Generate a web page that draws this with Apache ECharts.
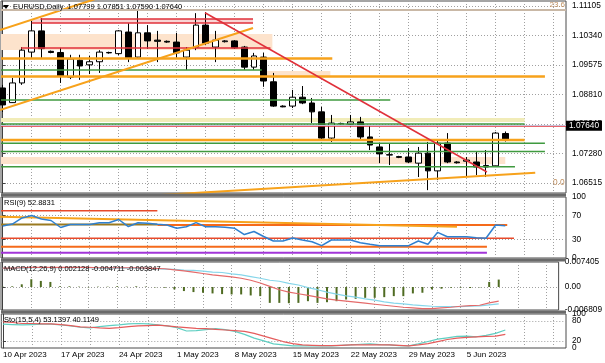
<!DOCTYPE html>
<html><head><meta charset="utf-8">
<script src="https://cdn.jsdelivr.net/npm/echarts@6/dist/echarts.min.js"></script>
<style>html,body{margin:0;padding:0;background:#fff}#c{width:605px;height:363px}</style>
</head><body><div id="c"></div><script>
// ---------------- DATA ----------------
const xLabels = ['10 Apr 2023','17 Apr 2023','24 Apr 2023','1 May 2023','8 May 2023','15 May 2023','22 May 2023','29 May 2023','5 Jun 2023'];
const labelBars = [0,6,12,18,24,30,36,42,48];
const gridBars = [0,3,6,9,12,15,18,21,24,27,30,33,36,39,42,45,48,51,54,57];

const opens  = [1.0898,1.0860,1.0911,1.0991,1.1046,1.0993,1.0990,1.0926,1.0970,1.0958,1.0966,1.0990,1.0987,1.1043,1.0978,1.1041,1.1022,1.1019,1.1017,1.0978,1.1004,1.1061,1.1004,1.1018,1.1020,1.1004,1.0952,1.0978,1.0914,1.0851,1.0851,1.0874,1.0859,1.0836,1.0768,1.0806,1.0804,1.0810,1.0771,1.0745,1.0725,1.0720,1.0719,1.0703,1.0729,1.0683,1.0755,1.0706,1.0708,1.0706,1.0693,1.0696,1.07799];
const highs  = [1.0906,1.0924,1.1004,1.1072,1.1079,1.0995,1.1002,1.0984,1.0984,1.0981,1.0996,1.0992,1.1048,1.1066,1.1098,1.1061,1.1046,1.1021,1.1041,1.1004,1.1092,1.1095,1.1046,1.1022,1.1022,1.1007,1.0989,1.0989,1.0937,1.0853,1.0893,1.0903,1.0872,1.0849,1.0828,1.0808,1.0828,1.0823,1.0802,1.0755,1.0755,1.0722,1.0742,1.0745,1.0758,1.0763,1.0781,1.0708,1.0719,1.0732,1.0737,1.0784,1.07851];
const lows   = [1.0836,1.0859,1.0906,1.0976,1.0976,1.0988,1.0911,1.0921,1.0919,1.0934,1.0937,1.0987,1.0983,1.0965,1.0976,1.0999,1.0965,1.1015,1.0976,1.0945,1.0996,1.1009,1.0965,1.1016,1.0999,1.0945,1.0945,1.0901,1.0849,1.0848,1.0846,1.0856,1.0807,1.0763,1.0758,1.0804,1.0797,1.0763,1.0737,1.0703,1.0698,1.0716,1.0703,1.0667,1.0633,1.0659,1.0703,1.0702,1.0667,1.0672,1.0667,1.0693,1.07590];
const closes = [1.0854,1.0911,1.0996,1.1046,1.1000,1.0990,1.0929,1.0973,1.0955,1.0966,1.0991,1.0989,1.1046,1.0976,1.1041,1.1020,1.1019,1.1017,1.0989,1.0996,1.1061,1.1014,1.1022,1.1020,1.1002,1.0952,1.0981,1.0916,1.0851,1.0849,1.0874,1.0859,1.0836,1.0768,1.0807,1.0805,1.0810,1.0771,1.0750,1.0727,1.0724,1.0718,1.0706,1.0729,1.0683,1.0755,1.0706,1.0704,1.0711,1.0693,1.0697,1.0781,1.07640];
const lastPrice = 1.07640;

const rsiValues = [52.5,55.7,65.6,69.7,63.9,61.5,50,54.9,54.9,54.9,57.9,57.9,63.1,51.6,57.9,56.9,55.2,54.1,48.7,51.3,57.9,51.3,51.3,50.3,48.7,38.5,43.4,35.2,27.9,27.9,32.8,29.5,26.7,20.2,29.5,29.5,29.5,25.1,22.5,20.2,20.2,20.2,20.2,27.9,22.5,42.1,34.9,34.9,34.9,33.3,32.3,54.1,52.9];
const macdHist = [0.0001,0.0002,0.0008,0.0023,0.0018,0.0015,0.0002,0.0002,0.0001,-0.0001,0.0001,0.0001,0.0002,0.0001,0.0002,0.0001,-0.0001,-0.0002,-0.0007,-0.0012,-0.0015,-0.0017,-0.0019,-0.0021,-0.0022,-0.0022,-0.0025,-0.0027,-0.0047,-0.0047,-0.0048,-0.0047,-0.0042,-0.0047,-0.0045,-0.0042,-0.0037,-0.0035,-0.0032,-0.0032,-0.0030,-0.0027,-0.0027,-0.0019,-0.0017,-0.0007,-0.0005,-0.0002,-0.0002,-0.0003,-0.0001,0.0015,0.0022];
const macdCyan = [0.0055,0.0055,0.0056,0.0057,0.0057,0.0057,0.0057,0.0057,0.0057,0.0057,0.0056,0.0056,0.0056,0.0056,0.0056,0.0055,0.0054,0.0053,0.0052,0.0050,0.0049,0.0047,0.0044,0.0043,0.0039,0.0036,0.0031,0.0026,0.0020,0.0017,0.0011,0.0006,-0.0002,-0.0008,-0.0015,-0.0021,-0.0026,-0.0030,-0.0035,-0.0039,-0.0044,-0.0048,-0.0050,-0.0053,-0.0055,-0.0057,-0.0058,-0.0058,-0.0058,-0.0057,-0.0056,-0.0053,-0.0050];
const macdRed  = [0.0056,0.0056,0.0057,0.0058,0.0058,0.0058,0.0058,0.0058,0.0058,0.0058,0.0057,0.0057,0.0057,0.0057,0.0057,0.0056,0.0055,0.0054,0.0051,0.0048,0.0044,0.0040,0.0036,0.0033,0.0030,0.0026,0.0020,0.0012,0.0002,-0.0008,-0.0015,-0.0020,-0.0025,-0.0030,-0.0035,-0.0039,-0.0042,-0.0045,-0.0048,-0.0051,-0.0054,-0.0057,-0.0060,-0.0062,-0.0064,-0.0064,-0.0062,-0.0060,-0.0057,-0.0055,-0.0054,-0.0047,-0.0042];
const stochK = [70,69,68,69,70,70,68,65,61,59,63,66,68,71,72,71,68,65,60,50,51,54,57,54,49,40,29,21,12,9,6,6,6,6,6.5,8,9,11,12,10,9,7,6.5,12,19,26,30,34,35,33,37,43,53];
const stochD = [77,75,72,72,71,71,69,66,62,61,59,58,60,63,65,66,67,65,62,60,58,57,55,53,51,49,43,35,27,19,13,9,8,7,7,8,9,9,9,9,9,8,6.5,9,13,19,25,29,31,33,34,35,40];

// Objects drawn on the price chart. Bars may be fractional; null = chart edge.
const redLevels    = [[1.10768,3.9,25.9],[1.10664,3.0,25.9],[1.10016,1.9,27.7]];
const orangeLevels = [[1.09744,null,34.1],[1.09277,null,56.1],[1.07630,null,54.0]];
const greenLevels  = [[1.09445,null,26.8],[1.08667,null,40.1],[1.08045,null,54.0],[1.07545,null,56.1],[1.07332,null,56.1],[1.06938,null,53.0]];
const fullRedLevels = [1.08330];
const fibLevels    = [1.10920, 1.06385];
const fibCaptions  = ['23.6', '0.0'];
const peachZones   = [[1.10379,1.09964,null,27.9],[1.09419,1.09290,26.9,33.9],[1.07189,1.07008,null,52.0]];
const pinkZones    = [[1.10768,1.10664,3.0,25.9]];
const yellowZones  = [[1.08201,1.08097,null,54.0]];
const orangeTrends = [[[-0.28,1.10483],[12.1,1.11491]],[[-0.28,1.08408],[25.9,1.10535]],[[16.3,1.06204],[55.1,1.06782]]];
const redTrends    = [[[20.93,1.10931],[50.1,1.06800]]];
const priceTicks   = [1.06515,1.07280,1.08045,1.08810,1.09575,1.10340,1.11105];

// Objects on the RSI window: [value, fromBar, toBar]
const rsiRed      = [[77.5,null,16.0],[32.3,null,52.9]];
const rsiGold     = [[54.9,null,16.0]];
const rsiOrangeRed= [[54.0,16.0,52.2],[18.5,null,50.1]];
const rsiPurple   = [[8.7,null,50.1]];
const rsiTrends   = [[[-0.28,67.7],[47.0,51.3]]];

// ---------------- CHART ----------------
const FONT = 'Liberation Sans';
const X_MIN = -0.176, X_MAX = 58.28;
const P_MIN = 1.06256, P_MAX = 1.11235;
const MACD_MIN = -0.006809, MACD_MAX = 0.007405;
const gridLayout = [
  {left:1, top:1,   width:565, height:192},
  {left:1, top:197, width:565, height:61},
  {left:1, top:262, width:565, height:48},
  {left:1, top:314, width:565, height:34}
];
const dotted = {color:'#a0a0a0', type:[1,2], width:1};
const edge = v => v === null ? X_MIN : v;

const xAxes = gridLayout.map((g,k) => ({
  type:'value', gridIndex:k, min:X_MIN, max:X_MAX,
  axisLine:{show:false},
  axisTick:{show:false, customValues:gridBars},
  splitLine:{show:true, lineStyle:dotted},
  axisLabel: k === 3 ? {
    show:true, customValues:labelBars, align:'left', margin:3,
    fontSize:8, fontFamily:FONT, color:'#000',
    formatter: v => xLabels[labelBars.indexOf(Math.round(v))] || ''
  } : {show:false}
}));

const lbl = (vals, fmt) => ({customValues:vals, formatter:fmt, fontSize:8.3, fontFamily:FONT, color:'#000', margin:6});
function yAx(k, min, max, labelVals, tickVals, fmt) {
  return {
    type:'value', gridIndex:k, position:'right', min:min, max:max,
    axisLine:{show:true, lineStyle:{color:'#404040'}},
    axisTick:{show:true, length:3, customValues:tickVals, lineStyle:{color:'#404040'}},
    axisLabel:lbl(labelVals, fmt),
    splitLine:{show:true, lineStyle:dotted}
  };
}
function yLabelOnly(k, min, max, val, fmt) {
  return {
    type:'value', gridIndex:k, position:'right', min:min, max:max,
    axisLine:{show:false}, axisTick:{show:false, customValues:[val]}, splitLine:{show:false},
    axisLabel:{...lbl([val], fmt), showMinLabel:true, showMaxLabel:true}
  };
}
const intFmt = v => String(Math.round(v));
const yAxes = [
  yAx(0, P_MIN, P_MAX, priceTicks, priceTicks, v => v.toFixed(5)),
  yAx(1, 0, 100, [30,70], [30,70], intFmt),
  yAx(2, MACD_MIN, MACD_MAX, [MACD_MIN,0,MACD_MAX], [0], v => Math.abs(v) < 1e-9 ? '0.00' : v.toFixed(6)),
  yAx(3, 0, 100, [20,80], [20,80], intFmt),
  yLabelOnly(1, 0, 100, 0, intFmt),
  yLabelOnly(1, 0, 100, 100, intFmt),
  yLabelOnly(3, 0, 100, 0, intFmt),
  yLabelOnly(3, 0, 100, 100, intFmt)
];

const series = [];
function seg(k, pts, color, width, z) {
  series.push({type:'line', xAxisIndex:k, yAxisIndex:k, data:pts, symbol:'none', silent:true,
    animation:false, z:z||4, clip:true, lineStyle:{color:color, width:width}});
}
function band(z, color) {
  return [{xAxis:edge(z[2]), yAxis:z[0], itemStyle:{color:color}}, {xAxis:edge(z[3]), yAxis:z[1]}];
}
series.push({type:'line', xAxisIndex:0, yAxisIndex:0, data:[], z:1, silent:true, animation:false,
  markArea:{silent:true, data:[
    ...peachZones.map(z => band(z,'#fde3cc')),
    ...pinkZones.map(z => band(z,'#f8d4d4')),
    ...yellowZones.map(z => band(z,'#f1ecb8'))
  ]}});
series.push({
  type:'candlestick', xAxisIndex:0, yAxisIndex:0, z:2, animation:false, barWidth:6,
  encode:{x:0, y:[1,2,3,4]},
  data: opens.map((o,i) => [i, o, closes[i], lows[i], highs[i]]),
  itemStyle:{color:'#ffffff', color0:'#000000', borderColor:'#000000', borderColor0:'#000000', borderColorDoji:'#000000', borderWidth:1},
  markLine:{symbol:'none', silent:true, animation:false, data:[
    ...fibLevels.map((f,i) => ({yAxis:f, lineStyle:{color:'#c9b8a6', width:2, type:'solid'},
        label:{show:i === 0, position:'insideEndTop', formatter:fibCaptions[i], color:'#c09060', fontSize:8, fontFamily:FONT, distance:1}})),
    ...fullRedLevels.map(v => ({yAxis:v, lineStyle:{color:'#e0303a', width:1.5, type:'solid'}, label:{show:false}})),
    {yAxis:lastPrice, lineStyle:{color:'#c8c0d8', width:1, type:'solid'},
      label:{show:true, position:'end', formatter:lastPrice.toFixed(5), backgroundColor:'#000', color:'#fff',
             fontSize:8.3, fontFamily:FONT, padding:[1,3,1,3], distance:0}}
  ]}
});
redLevels.forEach(l => seg(0, [[edge(l[1]),l[0]],[edge(l[2]),l[0]]], '#e0303a', 1.5));
greenLevels.forEach(l => seg(0, [[edge(l[1]),l[0]],[edge(l[2]),l[0]]], '#3f9a3f', 1.5));
orangeLevels.forEach(l => seg(0, [[edge(l[1]),l[0]],[edge(l[2]),l[0]]], '#f7a21b', 2.5));
orangeTrends.forEach(t => seg(0, t, '#f7a21b', 2));
redTrends.forEach(t => seg(0, t, '#e0303a', 1.5, 5));

rsiRed.forEach(l => seg(1, [[edge(l[1]),l[0]],[edge(l[2]),l[0]]], '#e84a2a', 1.5));
rsiGold.forEach(l => seg(1, [[edge(l[1]),l[0]],[edge(l[2]),l[0]]], '#9a7a20', 2));
rsiOrangeRed.forEach(l => seg(1, [[edge(l[1]),l[0]],[edge(l[2]),l[0]]], '#f56a1a', 2));
rsiPurple.forEach(l => seg(1, [[edge(l[1]),l[0]],[edge(l[2]),l[0]]], '#a235d8', 2));
rsiTrends.forEach(t => seg(1, t, '#f7a21b', 2));
series.push({type:'line', xAxisIndex:1, yAxisIndex:1, data:rsiValues.map((v,i)=>[i,v]), symbol:'none',
  animation:false, z:6, lineStyle:{color:'#2f80d0', width:1.5}});

series.push({type:'bar', xAxisIndex:2, yAxisIndex:2, data:macdHist.map((v,i)=>[i,v]), barWidth:2,
  animation:false, itemStyle:{color:'#4f6b22'}});
series.push({type:'line', xAxisIndex:2, yAxisIndex:2, data:macdCyan.map((v,i)=>[i,v]), symbol:'none',
  animation:false, lineStyle:{color:'#86d6ea', width:1.2}});
series.push({type:'line', xAxisIndex:2, yAxisIndex:2, data:macdRed.map((v,i)=>[i,v]), symbol:'none',
  animation:false, lineStyle:{color:'#e46a6a', width:1.2}});

series.push({type:'line', xAxisIndex:3, yAxisIndex:3, data:stochK.map((v,i)=>[i,v]), symbol:'none',
  animation:false, lineStyle:{color:'#5fcfc2', width:1.2}});
series.push({type:'line', xAxisIndex:3, yAxisIndex:3, data:stochD.map((v,i)=>[i,v]), symbol:'none',
  animation:false, lineStyle:{color:'#e55c5c', width:1.2}});

const txt = (x, y, s) => ({type:'text', left:x, top:y, z:100, style:{text:s, font:'7.5px "Liberation Sans"', fill:'#000'}});
const cap = (x, y, s, color) => ({type:'text', x:x, y:y, z:120,
  style:{text:s, fontSize:8.3, fontFamily:FONT, fill:color || '#000', align:'left', verticalAlign:'middle'}});
const sep = y => ({type:'rect', z:90, shape:{x:1, y:y, width:565, height:3}, style:{fill:'#6a6a6a'}});
const chart = echarts.init(document.getElementById('c'), null, {renderer:'canvas'});
chart.setOption({
  animation:false,
  backgroundColor:'#ffffff',
  grid: gridLayout.map(g => ({...g, show:true, borderColor:'#4a4a4a', borderWidth:1, backgroundColor:'#fff', containLabel:false})),
  xAxis: xAxes,
  yAxis: yAxes,
  series: series,
  graphic: [
    sep(193.5), sep(258.5), sep(310.5),
    {type:'polygon', z:100, shape:{points:[[3,5],[9,5],[6,9]]}, style:{fill:'#000'}},
    txt(13, 3, 'EURUSD,Daily  1.07799 1.07851 1.07590 1.07640'),
    txt(4, 199, 'RSI(9) 52.8831'),
    txt(4, 265, 'MACD(12,26,9) 0.002128 -0.004711 -0.003847'),
    txt(4, 316, 'Sto(15,5,4) 53.1397 40.1149'),
    cap(553, 183, '0.0', '#c09060')
  ]
});
</script></body></html>
